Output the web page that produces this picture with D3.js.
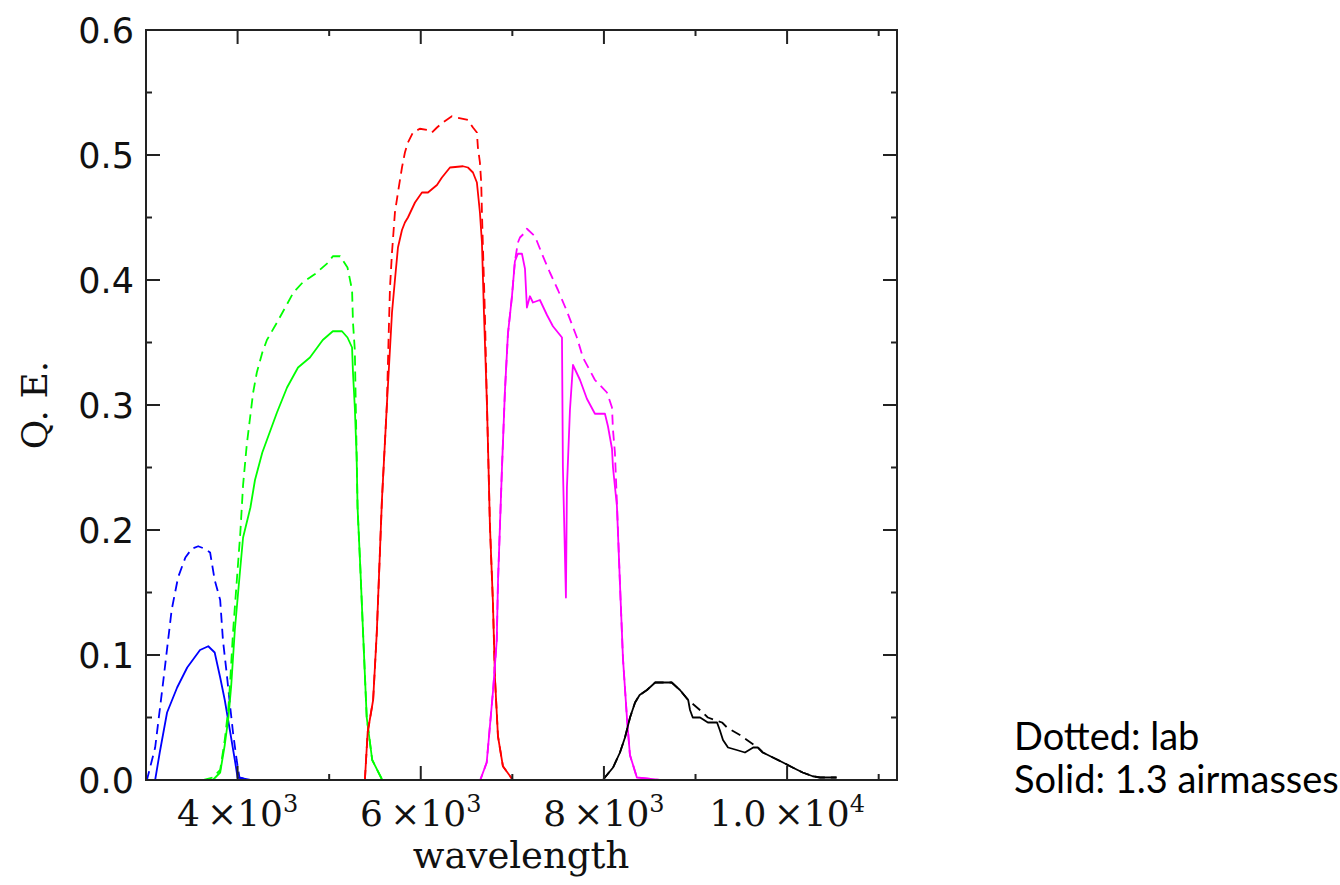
<!DOCTYPE html>
<html>
<head>
<meta charset="utf-8">
<script src="https://cdn.jsdelivr.net/npm/d3@7"></script>
<style>
  html, body { margin: 0; padding: 0; background: #fff; }
  svg { display: block; }
</style>
</head>
<body>
<svg id="chart" width="1340" height="885"></svg>
<script>
// Filter throughput curves: [wavelength (Å), quantum efficiency]
// "lab" = laboratory measurement (dashed), "air" = through 1.3 airmasses (solid)
const uLab = [[3000,0],[3010,0],[3100,0.026],[3190,0.08],[3280,0.136],[3350,0.162],[3430,0.178],[3500,0.185],[3570,0.187],[3640,0.185],[3700,0.182],[3750,0.16],[3810,0.144],[3840,0.112],[3880,0.086],[3920,0.058],[3950,0.038],[3990,0.016],[4020,0.002],[4140,0]];
const uAir = [[3000,0],[3100,0],[3150,0.022],[3230,0.054],[3340,0.074],[3450,0.09],[3590,0.104],[3680,0.107],[3750,0.102],[3810,0.082],[3860,0.064],[3920,0.038],[3970,0.016],[4000,0.002],[4140,0]];

const gLab = [[3620,0],[3730,0.002],[3810,0.008],[3860,0.032],[3900,0.058],[3920,0.08],[3950,0.118],[3990,0.158],[4030,0.198],[4060,0.236],[4100,0.268],[4140,0.292],[4170,0.31],[4210,0.326],[4270,0.342],[4320,0.352],[4430,0.366],[4550,0.382],[4610,0.39],[4710,0.398],[4850,0.405],[4990,0.414],[5040,0.419],[5120,0.419],[5200,0.41],[5250,0.392],[5260,0.366],[5280,0.344],[5300,0.26],[5310,0.218],[5340,0.17],[5370,0.118],[5410,0.05],[5470,0.016],[5580,0],[5850,0]];
const gAir = [[3730,0],[3810,0.006],[3860,0.028],[3900,0.05],[3930,0.075],[3970,0.12],[4030,0.17],[4060,0.194],[4140,0.218],[4190,0.24],[4270,0.262],[4320,0.272],[4430,0.294],[4540,0.314],[4660,0.33],[4790,0.338],[4930,0.352],[5040,0.359],[5140,0.359],[5200,0.354],[5250,0.346],[5260,0.326],[5280,0.298],[5300,0.258],[5310,0.218],[5340,0.17],[5370,0.118],[5410,0.05],[5470,0.016],[5580,0],[5850,0]];

const rLab = [[5390,0],[5420,0.038],[5480,0.064],[5520,0.118],[5555,0.184],[5576,0.224],[5630,0.30],[5650,0.357],[5664,0.394],[5686,0.422],[5718,0.454],[5751,0.47],[5795,0.49],[5827,0.502],[5860,0.51],[5915,0.518],[5990,0.521],[6080,0.52],[6122,0.518],[6177,0.522],[6240,0.526],[6340,0.531],[6395,0.53],[6515,0.528],[6570,0.522],[6613,0.518],[6624,0.506],[6646,0.494],[6660,0.478],[6668,0.454],[6679,0.426],[6700,0.374],[6723,0.30],[6740,0.25],[6755,0.204],[6788,0.142],[6810,0.082],[6843,0.035],[6897,0.011],[7006,0],[7225,0]];
const rAir = [[5390,0],[5420,0.038],[5480,0.064],[5520,0.118],[5555,0.184],[5576,0.224],[5630,0.30],[5686,0.374],[5718,0.40],[5751,0.426],[5795,0.44],[5827,0.446],[5860,0.45],[5937,0.462],[6013,0.47],[6079,0.47],[6177,0.476],[6231,0.482],[6319,0.49],[6461,0.491],[6515,0.49],[6570,0.486],[6613,0.478],[6624,0.47],[6646,0.454],[6668,0.43],[6690,0.374],[6723,0.30],[6740,0.25],[6755,0.204],[6788,0.142],[6810,0.082],[6843,0.035],[6897,0.011],[7006,0],[7225,0]];

const iLab = [[6430,0],[6650,0],[6720,0.014],[6790,0.072],[6830,0.112],[6843,0.158],[6865,0.204],[6887,0.25],[6919,0.311],[6952,0.357],[6996,0.387],[7028,0.415],[7061,0.43],[7083,0.434],[7138,0.438],[7159,0.441],[7247,0.435],[7323,0.421],[7410,0.406],[7498,0.392],[7596,0.375],[7705,0.354],[7771,0.338],[7902,0.32],[8033,0.31],[8088,0.298],[8099,0.28],[8120,0.262],[8142,0.222],[8175,0.157],[8208,0.097],[8251,0.05],[8284,0.02],[8360,0.002],[8610,0]];
const iAir = [[6430,0],[6650,0],[6720,0.014],[6790,0.072],[6830,0.112],[6843,0.158],[6865,0.204],[6887,0.25],[6919,0.311],[6952,0.357],[6996,0.387],[7028,0.415],[7061,0.421],[7105,0.421],[7138,0.409],[7159,0.378],[7192,0.387],[7225,0.382],[7301,0.384],[7378,0.372],[7443,0.363],[7542,0.354],[7552,0.25],[7585,0.146],[7596,0.234],[7629,0.296],[7662,0.332],[7739,0.32],[7814,0.305],[7902,0.293],[8011,0.293],[8044,0.283],[8088,0.265],[8099,0.25],[8142,0.219],[8175,0.157],[8208,0.097],[8251,0.05],[8284,0.02],[8360,0.002],[8610,0]];

const zLab = [[7990,0],[8010,0.002],[8100,0.01],[8175,0.022],[8230,0.034],[8285,0.05],[8340,0.062],[8390,0.068],[8470,0.072],[8560,0.078],[8640,0.078],[8740,0.078],[8830,0.072],[8920,0.064],[9080,0.054],[9135,0.05],[9290,0.046],[9345,0.042],[9485,0.036],[9680,0.026],[9735,0.022],[9845,0.018],[9955,0.014],[10060,0.01],[10170,0.006],[10280,0.003],[10360,0.002],[10540,0.002]];
const zAir = [[7990,0],[8010,0.002],[8100,0.01],[8175,0.022],[8230,0.034],[8285,0.05],[8340,0.062],[8390,0.068],[8470,0.072],[8560,0.078],[8640,0.078],[8740,0.078],[8830,0.072],[8920,0.064],[8940,0.056],[8970,0.05],[9050,0.05],[9135,0.046],[9235,0.046],[9265,0.04],[9300,0.032],[9355,0.026],[9450,0.024],[9540,0.022],[9630,0.026],[9680,0.026],[9735,0.022],[9845,0.018],[9955,0.014],[10060,0.01],[10170,0.006],[10280,0.003],[10360,0.002],[10540,0.002]];

const bandColors = { u: "#0000ff", g: "#00ff00", r: "#ff0000", i: "#ff00ff", z: "#000000" };

// Axis ticks and labels
const xMajorTicks = [4000, 6000, 8000, 10000];
const xMinorTicks = [5000, 7000, 9000, 11000];
const xTickMantissa = ["4", "6", "8", "1.0"];
const xTickExponent = ["3", "3", "3", "4"];
const yMajorTicks = [0, 0.1, 0.2, 0.3, 0.4, 0.5, 0.6];
const yMinorTicks = [0.05, 0.15, 0.25, 0.35, 0.45, 0.55];
const xTitle = "wavelength";
const yTitle = "Q. E.";
const noteLines = ["Dotted: lab", "Solid: 1.3 airmasses"];

const svg = d3.select("#chart");
const box = { left: 146, right: 897, top: 30, bottom: 780 };

const x = d3.scaleLinear().domain([3000, 11200]).range([box.left, box.right]);
const y = d3.scaleLinear().domain([0, 0.6]).range([box.bottom, box.top]);

const curves = [
  { data: uLab, band: "u", dashed: true },  { data: uAir, band: "u", dashed: false },
  { data: gLab, band: "g", dashed: true },  { data: gAir, band: "g", dashed: false },
  { data: rLab, band: "r", dashed: true },  { data: rAir, band: "r", dashed: false },
  { data: iLab, band: "i", dashed: true },  { data: iAir, band: "i", dashed: false },
  { data: zLab, band: "z", dashed: true },  { data: zAir, band: "z", dashed: false }
];

const line = d3.line().x(d => x(d[0])).y(d => y(d[1]));

const plot = svg.append("g");
plot.append("clipPath").attr("id", "plotClip")
  .append("rect").attr("x", box.left).attr("y", box.top)
  .attr("width", box.right - box.left).attr("height", box.bottom - box.top);

plot.append("g").attr("clip-path", "url(#plotClip)")
  .selectAll("path").data(curves).join("path")
  .attr("d", d => line(d.data))
  .attr("fill", "none")
  .attr("stroke", d => bandColors[d.band])
  .attr("stroke-width", 1.8)
  .attr("stroke-linejoin", "round")
  .attr("stroke-dasharray", d => d.dashed ? "10,6" : null);

// Frame and inward ticks on all four sides
const axisColor = "#222";
const frame = svg.append("g").attr("stroke", axisColor).attr("stroke-width", 2).attr("fill", "none");
frame.append("rect").attr("x", box.left).attr("y", box.top)
  .attr("width", box.right - box.left).attr("height", box.bottom - box.top);

const majorLen = 14, minorLen = 6;
function xTick(v, len) {
  frame.append("line").attr("x1", x(v)).attr("x2", x(v)).attr("y1", box.bottom).attr("y2", box.bottom - len);
  frame.append("line").attr("x1", x(v)).attr("x2", x(v)).attr("y1", box.top).attr("y2", box.top + len);
}
function yTick(v, len) {
  frame.append("line").attr("x1", box.left).attr("x2", box.left + len).attr("y1", y(v)).attr("y2", y(v));
  frame.append("line").attr("x1", box.right).attr("x2", box.right - len).attr("y1", y(v)).attr("y2", y(v));
}
xMajorTicks.forEach(v => xTick(v, majorLen));
xMinorTicks.forEach(v => xTick(v, minorLen));
yMajorTicks.forEach(v => yTick(v, majorLen));
yMinorTicks.forEach(v => yTick(v, minorLen));

// Y tick labels
svg.append("g").selectAll("text").data(yMajorTicks).join("text")
  .attr("x", 134).attr("y", d => y(d) + 13)
  .attr("text-anchor", "end")
  .attr("font-family", "DejaVu Sans, sans-serif")
  .attr("font-size", 35)
  .attr("fill", "#111")
  .text(d => d3.format(".1f")(d));

// X tick labels in scientific notation
const xl = svg.append("g").selectAll("text").data(xMajorTicks).join("text")
  .attr("x", d => x(d)).attr("y", 826)
  .attr("text-anchor", "middle")
  .attr("font-family", "DejaVu Serif, serif")
  .attr("font-size", 36)
  .attr("fill", "#111");
xl.append("tspan").text((d, i) => xTickMantissa[i] + "\u2009\u00d710");
xl.append("tspan").attr("font-size", 24).attr("dy", -14).text((d, i) => xTickExponent[i]);

// Axis titles
svg.append("text")
  .attr("x", 521).attr("y", 868)
  .attr("text-anchor", "middle")
  .attr("font-family", "DejaVu Serif, serif")
  .attr("font-size", 37)
  .attr("fill", "#111")
  .text(xTitle);

svg.append("text")
  .attr("transform", "translate(47,405) rotate(-90)")
  .attr("text-anchor", "middle")
  .attr("font-family", "DejaVu Serif, serif")
  .attr("font-size", 36)
  .attr("fill", "#111")
  .text(yTitle);

// Note on line styles
svg.append("g").selectAll("text").data(noteLines).join("text")
  .attr("x", 1014).attr("y", (d, i) => 750 + i * 43)
  .attr("font-family", "Lato, 'Open Sans', sans-serif")
  .attr("font-size", 38)
  .attr("fill", "#000")
  .text(d => d);
</script>
</body>
</html>
